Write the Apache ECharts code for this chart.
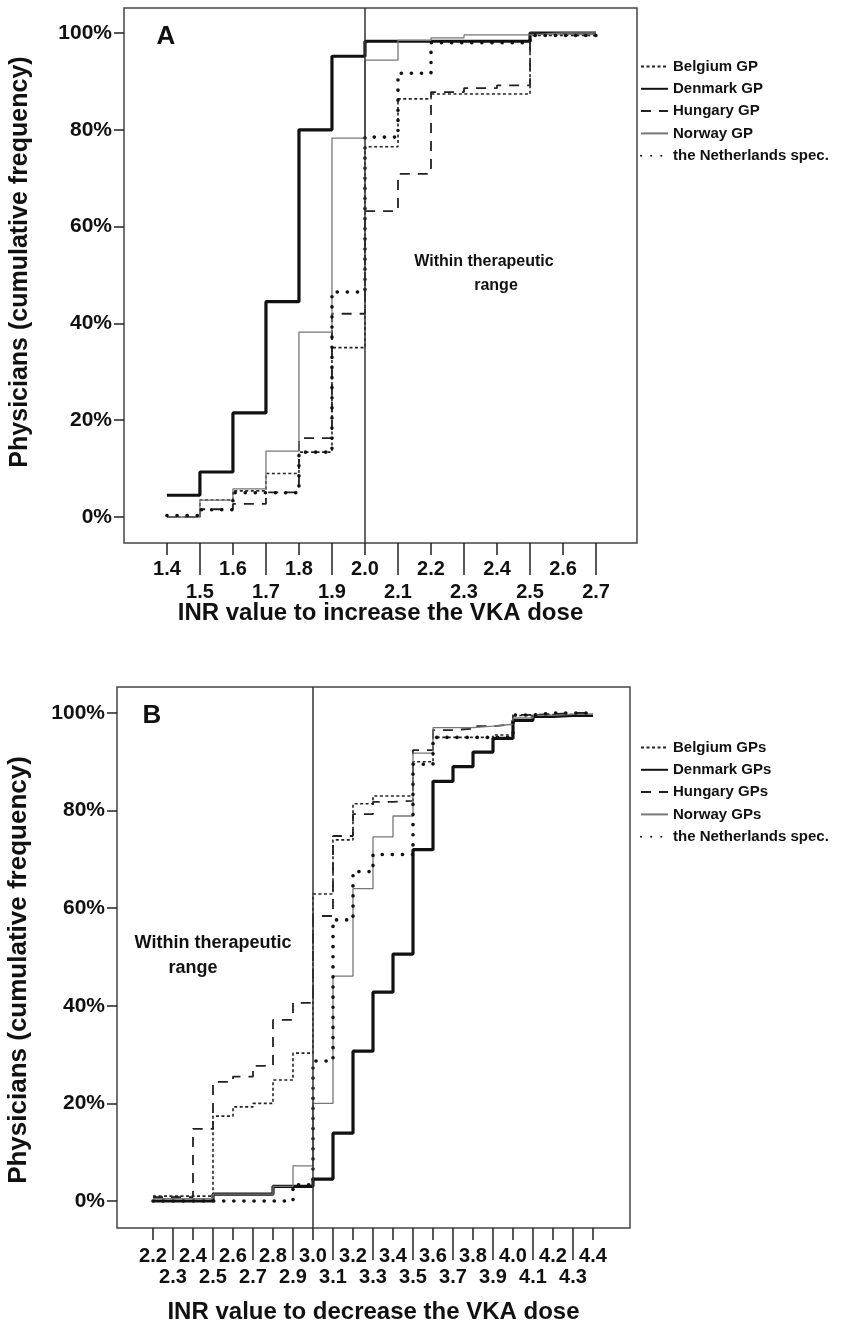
<!DOCTYPE html>
<html>
<head>
<meta charset="utf-8">
<title>INR cumulative frequency</title>
<script src="https://cdn.jsdelivr.net/npm/echarts@6.0.0/dist/echarts.min.js"></script>
<style>
html, body { margin: 0; padding: 0; background: #fff; }
#chart { width: 842px; height: 1336px; }
</style>
</head>
<body>
<div id="chart"></div>
<script>
// panel A: INR value to increase the dose
var xA = [1.4, 1.5, 1.6, 1.7, 1.8, 1.9, 2.0, 2.1, 2.2, 2.3, 2.4, 2.5, 2.6, 2.7];
var belgiumA = [0, 3.5, 5.4, 9, 13.4, 35, 76.5, 86.4, 87.4, 87.4, 87.4, 99.5, 99.5, 99.5];
var denmarkA = [4.5, 9.3, 21.5, 44.5, 80, 95.2, 98.3, 98.3, 98.3, 98.3, 98.3, 100, 100, 100];
var hungaryA = [0, 1.6, 2.7, 5.1, 16.3, 42, 63.2, 70.9, 87.8, 88.6, 89.2, 100, 100, 100];
var norwayA = [0, 3.5, 5.8, 13.6, 38.2, 78.3, 94.4, 98.5, 99, 99.6, 99.6, 100, 100, 100];
var netherlandsA = [0.3, 1.5, 5, 5, 13.4, 46.5, 78.5, 91.7, 98, 98, 98, 99.5, 99.5, 99.5];
var namesA = ['Belgium GP', 'Denmark GP', 'Hungary GP', 'Norway GP', 'the Netherlands spec.'];

// panel B: INR value to decrease the dose
var xB = [2.2, 2.3, 2.4, 2.5, 2.6, 2.7, 2.8, 2.9, 3.0, 3.1, 3.2, 3.3, 3.4, 3.5, 3.6, 3.7, 3.8, 3.9, 4.0, 4.1, 4.2, 4.3, 4.4];
var belgiumB = [1, 1, 1, 17.4, 19.3, 20, 24.8, 30.3, 62.9, 74, 81.4, 83, 83, 90, 95, 95, 95, 95.5, 99.5, 99.7, 99.7, 99.7, 99.7];
var denmarkB = [0, 0, 0, 1.4, 1.4, 1.4, 3, 3, 4.5, 13.9, 30.7, 42.8, 50.6, 72, 86, 89, 92, 94.8, 98.5, 99.3, 99.5, 99.5, 99.5];
var hungaryB = [0.8, 0.8, 14.8, 24.4, 25.5, 27.7, 37.1, 40.6, 58.4, 74.8, 79.3, 81.8, 82, 92.4, 96.5, 96.8, 97.3, 97.7, 99.6, 99.8, 100, 100, 100];
var norwayB = [0.5, 0.5, 0.5, 1.4, 1.4, 1.4, 3, 7.2, 20, 46.1, 64, 74.6, 78.9, 91.8, 97, 97, 97.3, 97.7, 99, 99.5, 99.7, 99.7, 99.7];
var netherlandsB = [0, 0, 0, 0, 0, 0, 0, 3.3, 28.7, 57.6, 67.5, 71, 71, 89.5, 95, 95, 95, 95, 99.6, 100, 100, 100, 100];
var namesB = ['Belgium GPs', 'Denmark GPs', 'Hungary GPs', 'Norway GPs', 'the Netherlands spec.'];

var yTicks = [0, 20, 40, 60, 80, 100];

var FONT = '"Liberation Sans", Arial, sans-serif';

// line look per country, same order as the names
var styles = [
	{ color : '#222', width : 1.6, type : [ 3, 2.5 ] },
	{ color : '#111', width : 3.2, type : 'solid' },
	{ color : '#222', width : 1.8, type : [ 10, 8 ] },
	{ color : '#777', width : 1.3, type : 'solid' },
	{ color : '#111', width : 3.6, type : [ 0.1, 10 ], cap : 'round' }
];

function everyOther(arr, odd) {
	return arr.filter(function(v, i) {
		return (i % 2 === 1) === odd;
	});
}

function stepSeries(name, xs, ys, xi, yi, style) {
	return {
		name : name,
		type : 'line',
		step : 'end',
		xAxisIndex : xi,
		yAxisIndex : yi,
		symbol : 'none',
		showSymbol : false,
		color : style.color,
		lineStyle : style,
		emphasis : { disabled : true },
		animation : false,
		data : xs.map(function(x, i) {
			return [ x, ys[i] ];
		})
	};
}

function refLine(x) {
	return {
		silent : true,
		symbol : 'none',
		label : { show : false },
		lineStyle : { color : '#333', width : 1.5, type : 'solid' },
		data : [ { xAxis : x } ]
	};
}

// two overlapping bottom axes: short ticks + first label row, long ticks + second row
function xAxes(grid, xs, min, max, margins) {
	var tickLabel = function(v) {
		return v.toFixed(1);
	};
	var common = {
		type : 'value',
		gridIndex : grid,
		position : 'bottom',
		min : min,
		max : max,
		splitLine : { show : false },
		axisLine : { show : false, onZero : false }
	};
	var first = Object.assign({}, common, {
		axisTick : { show : true, customValues : everyOther(xs, false), length : 12,
			lineStyle : { color : '#222', width : 1.5 } },
		axisLabel : { customValues : everyOther(xs, false), formatter : tickLabel, margin : margins[0],
			color : '#111', fontWeight : 'bold', fontSize : 20, fontFamily : FONT }
	});
	var second = Object.assign({}, common, {
		axisTick : { show : true, customValues : everyOther(xs, true), length : 32,
			lineStyle : { color : '#222', width : 1.5 } },
		axisLabel : { customValues : everyOther(xs, true), formatter : tickLabel, margin : margins[1],
			color : '#111', fontWeight : 'bold', fontSize : 20, fontFamily : FONT }
	});
	return [ first, second ];
}

function yAxis(grid, min, max) {
	return {
		type : 'value',
		gridIndex : grid,
		min : min,
		max : max,
		splitLine : { show : false },
		axisLine : { show : false },
		axisTick : { show : true, customValues : yTicks, length : 10,
			lineStyle : { color : '#222', width : 1.5 } },
		axisLabel : { customValues : yTicks, margin : 12, color : '#111', fontWeight : 'bold',
			fontSize : 21, fontFamily : FONT,
			formatter : function(v) {
				return v + '%';
			} }
	};
}

function legend(names, top) {
	return {
		orient : 'vertical',
		left : 635,
		top : top,
		itemWidth : 27,
		itemHeight : 14,
		itemGap : 7.3,
		selectedMode : false,
		// keep the line sample, hide the round marker
		itemStyle : { opacity : 0, borderWidth : 0 },
		textStyle : { color : '#111', fontWeight : 'bold', fontSize : 15, lineHeight : 14, fontFamily : FONT },
		data : names
	};
}

function label(text, x, y, size, rotate) {
	return {
		type : 'text',
		x : x,
		y : y,
		rotation : rotate ? Math.PI / 2 : 0,
		style : {
			text : text,
			fill : '#111',
			font : 'bold ' + size + 'px ' + FONT,
			textAlign : 'center',
			textVerticalAlign : 'middle',
			align : 'center',
			verticalAlign : 'middle'
		}
	};
}

var seriesA = [ belgiumA, denmarkA, hungaryA, norwayA, netherlandsA ].map(function(ys, i) {
	return stepSeries(namesA[i], xA, ys, 0, 0, styles[i]);
});
var seriesB = [ belgiumB, denmarkB, hungaryB, norwayB, netherlandsB ].map(function(ys, i) {
	return stepSeries(namesB[i], xB, ys, 2, 1, styles[i]);
});
seriesA[0].markLine = refLine(2.0);
seriesB[0].markLine = refLine(3.0);

var axesA = xAxes(0, xA, 1.27, 2.824, [ 16, 39 ]);
var axesB = xAxes(1, xB, 2.02, 4.585, [ 18, 39 ]);
axesA[0].name = 'INR value to increase the VKA dose';
axesB[0].name = 'INR value to decrease the VKA dose';
[ axesA[0], axesB[0] ].forEach(function(ax, i) {
	ax.nameLocation = 'middle';
	ax.nameGap = i === 0 ? 58 : 72;
	ax.nameTextStyle = { color : '#111', fontWeight : 'bold', fontSize : 24, fontFamily : FONT };
});

var myChart = echarts.init(document.getElementById('chart'), null, { renderer : 'canvas' });
var option = {
	backgroundColor : '#fff',
	animation : false,
	grid : [
		{ left : 124, top : 8, width : 513, height : 535, show : true, borderColor : '#444', borderWidth : 1.5 },
		{ left : 117, top : 687, width : 513, height : 541, show : true, borderColor : '#444', borderWidth : 1.5 }
	],
	xAxis : axesA.concat(axesB),
	yAxis : [ yAxis(0, -5.37, 105.17), yAxis(1, -5.53, 105.33) ],
	legend : [ legend(namesA, 54), legend(namesB, 735) ],
	graphic : [
		label('Physicians (cumulative frequency)', 20, 262, 25, true),
		label('Physicians (cumulative frequency)', 19, 970, 26, true),
		label('A', 166, 37, 26),
		label('Within therapeutic', 484, 262, 16),
		label('range', 496, 286, 16),
		label('B', 152, 716, 26),
		label('Within therapeutic', 213, 943, 18),
		label('range', 193, 968, 18)
	],
	series : seriesA.concat(seriesB)
};
myChart.setOption(option);
</script>
</body>
</html>
